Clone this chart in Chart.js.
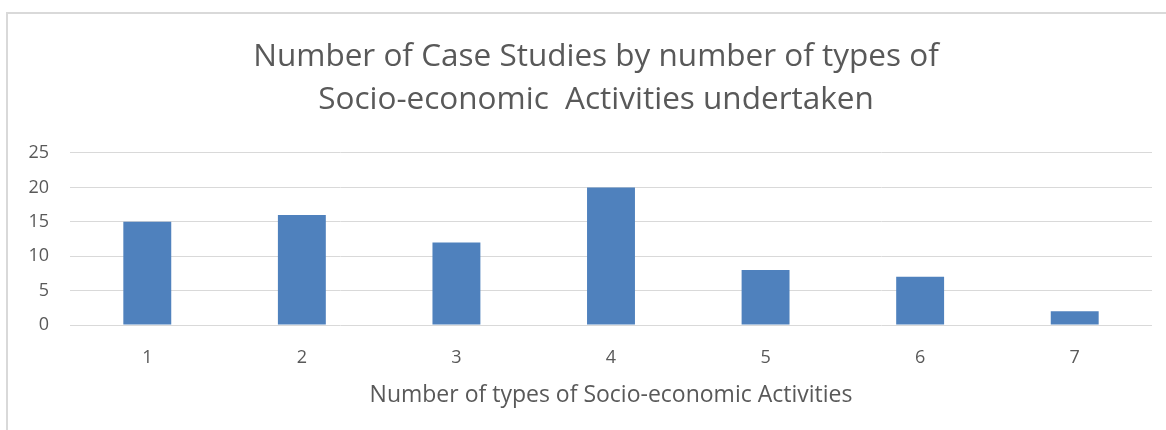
<!DOCTYPE html>
<html>
<head>
<meta charset="utf-8">
<title>Case Studies by Socio-economic Activities</title>
<script src="https://cdn.jsdelivr.net/npm/chart.js@4/dist/chart.umd.min.js"></script>
<style>
  html, body { margin: 0; padding: 0; background: #fff; }
  #wrap { position: relative; width: 1166px; height: 430px; overflow: hidden; }
  #frame {
    position: absolute; left: 6px; top: 12px; right: -4px; bottom: -4px;
    border-top: 2px solid #d9d9d9; border-left: 2px solid #d9d9d9;
    pointer-events: none;
  }
  /* canvas runs a little past the right edge so the title centres on the full chart box */
  canvas { position: absolute; left: 0; top: 0; }
</style>
</head>
<body>
<div id="wrap">
  <canvas id="chart" width="1192" height="430"></canvas>
  <div id="frame"></div>
</div>
<script>
// number of activity types -> number of case studies
const categories = ['1', '2', '3', '4', '5', '6', '7'];
const caseCounts = [15, 16, 12, 20, 8, 7, 2];
const yTicks = [0, 5, 10, 15, 20, 25];

const titleLines = [
  'Number of Case Studies by number of types of',
  'Socio-economic  Activities undertaken'
];
const xAxisTitle = 'Number of types of Socio-economic Activities';

const TEXT = '#595959';
const GRID = '#d9d9d9';
const BAR  = '#4f81bd';
const FONT = '"Open Sans", Lato, sans-serif';

Chart.defaults.font.family = FONT;
Chart.defaults.color = TEXT;

new Chart(document.getElementById('chart'), {
  type: 'bar',
  data: {
    labels: categories,
    datasets: [{
      data: caseCounts,
      backgroundColor: BAR,
      borderWidth: 0,
      categoryPercentage: 1,
      barPercentage: 0.31,
    }],
  },
  options: {
    responsive: false,
    animation: false,
    layout: { padding: { left: 0, right: 0, top: 0, bottom: 14 } },
    plugins: {
      legend: { display: false },
      tooltip: { enabled: false },
      title: {
        display: true,
        text: titleLines,
        color: TEXT,
        font: { size: 31.5, weight: 'normal', lineHeight: 1.365 },
        padding: { top: 36, bottom: 31 },
      },
    },
    scales: {
      x: {
        afterFit: (s) => { s.height = 91; },
        grid: { display: false, drawTicks: false },
        border: { display: false },
        ticks: { color: TEXT, font: { size: 18 }, padding: 22 },
        title: {
          display: true,
          text: xAxisTitle,
          color: TEXT,
          font: { size: 23 },
          padding: { top: 10, bottom: 7 },
        },
      },
      y: {
        min: 0,
        max: 25,
        afterFit: (s) => { s.width = 70; },
        afterBuildTicks: (s) => { s.ticks = yTicks.map(v => ({ value: v })); },
        grid: { color: GRID, lineWidth: 1, drawTicks: false },
        border: { display: false },
        ticks: { color: TEXT, font: { size: 18 }, padding: 21 },
      },
      // empty right-hand gutter (off screen) that keeps the plot at its width
      gutter: {
        type: 'linear',
        position: 'right',
        afterFit: (s) => { s.width = 40; },
        grid: { display: false, drawTicks: false },
        border: { display: false },
        ticks: { display: false },
      },
    },
  },
});
</script>
</body>
</html>
